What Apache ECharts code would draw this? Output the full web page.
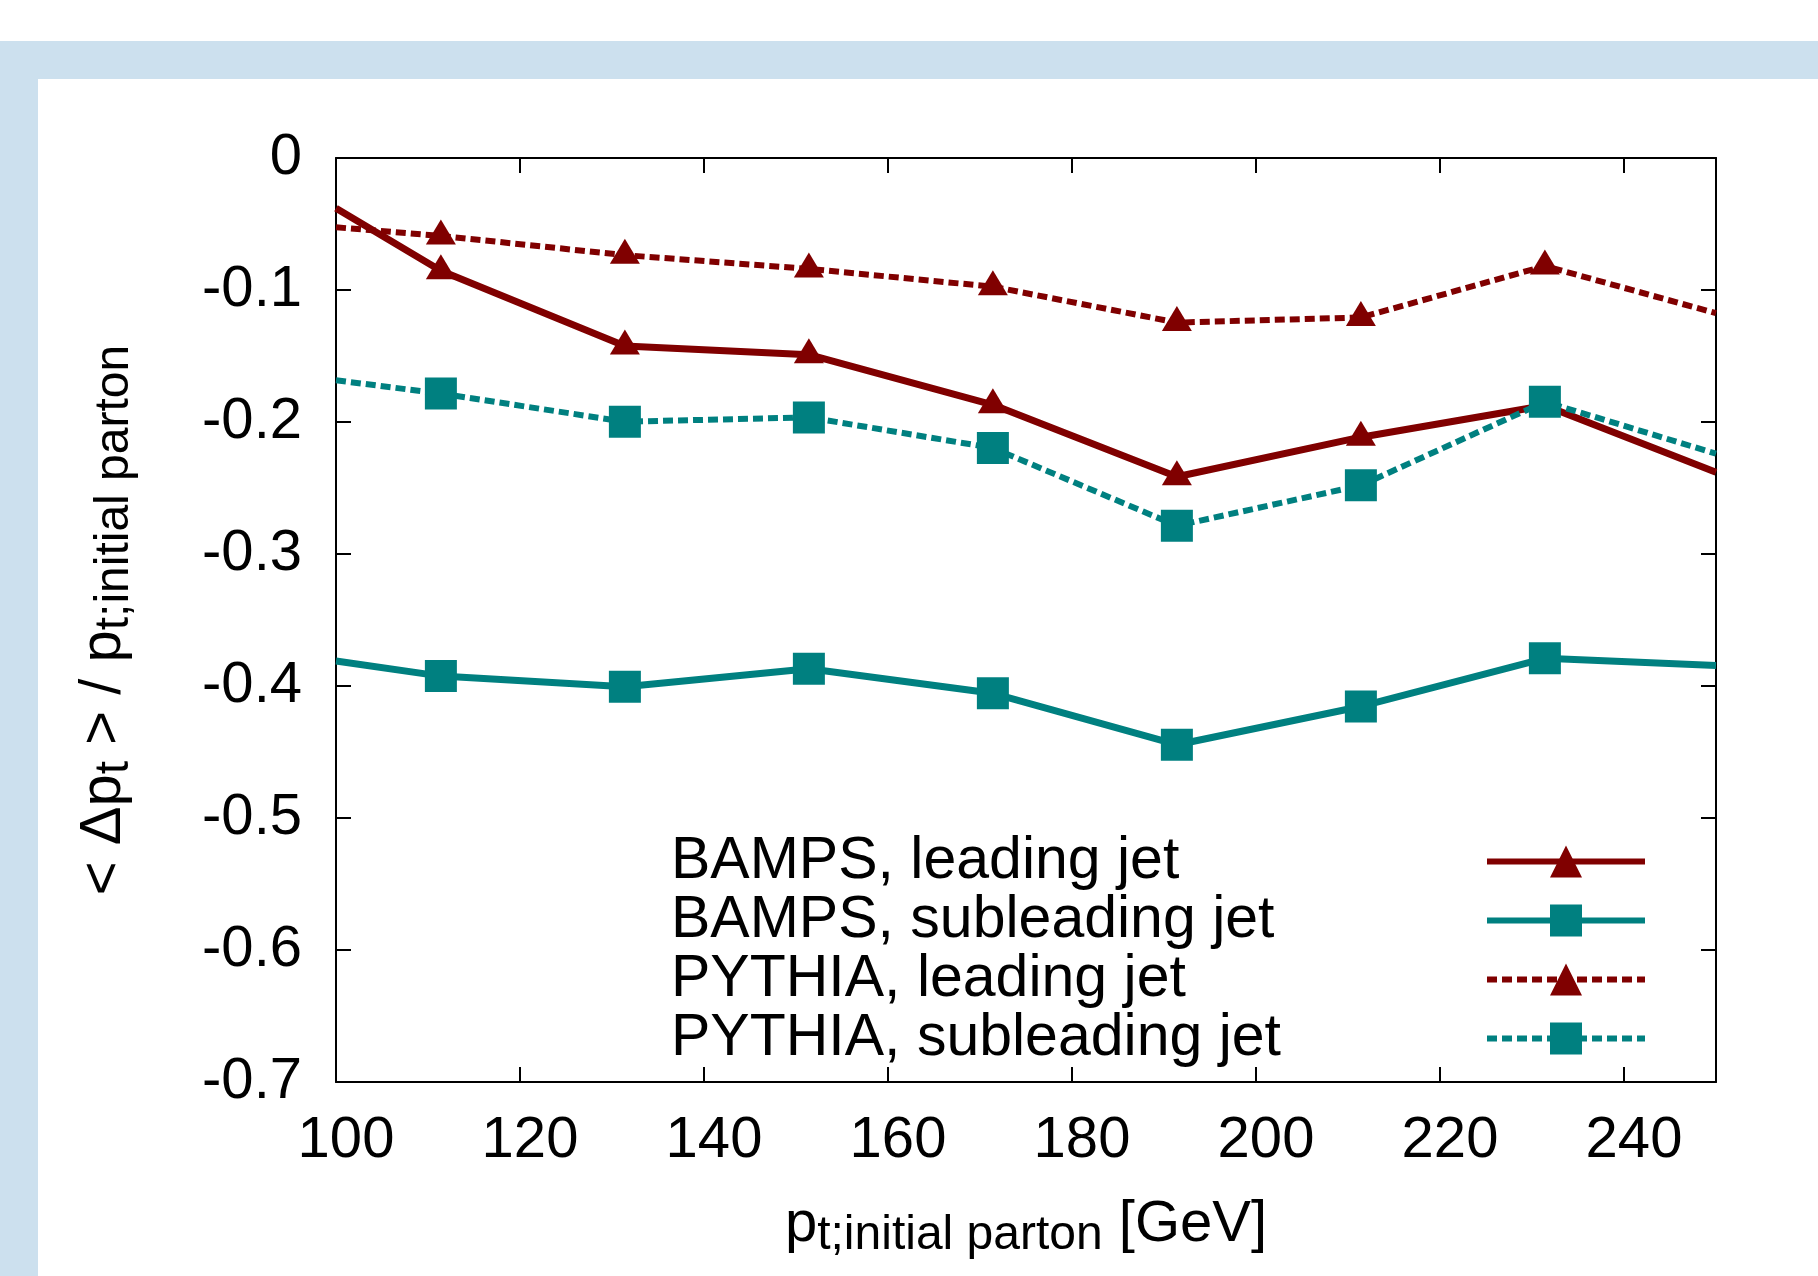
<!DOCTYPE html>
<html>
<head>
<meta charset="utf-8">
<title>jet energy loss</title>
<script src="https://cdn.jsdelivr.net/npm/echarts@6/dist/echarts.min.js"></script>
<style>
  html, body { margin: 0; padding: 0; background: #fff; }
  #chart { width: 1818px; height: 1276px; }
</style>
</head>
<body>
<div id="chart"></div>
<script>
// x positions (GeV); first / last entries are where the lines leave the frame
const ptBins = [100, 111.4, 131.4, 151.4, 171.4, 191.4, 211.4, 231.4, 250];

// < dpt > / pt;initial parton
const bampsLeading    = [-0.038, -0.0855, -0.1425, -0.149, -0.187, -0.2415, -0.2115, -0.1875, -0.238];
const bampsSubleading = [-0.381, -0.3925, -0.4005, -0.387, -0.4055, -0.4445, -0.4155, -0.379, -0.3845];
const pythiaLeading    = [-0.0525, -0.059, -0.0736, -0.084, -0.0975, -0.1247, -0.1208, -0.0818, -0.1176];
const pythiaSubleading = [-0.1684, -0.1785, -0.1998, -0.1965, -0.2197, -0.2786, -0.248, -0.1847, -0.224];

const seriesNames = ['BAMPS, leading jet', 'BAMPS, subleading jet', 'PYTHIA, leading jet', 'PYTHIA, subleading jet'];

const darkRed = '#800000';
const teal = '#008080';
const font = 'Liberation Sans, Arial, sans-serif';

// pair up x and y, no marker on the two edge points
function toPoints(vals) {
  return vals.map((v, i) => {
    let item = { value: [ptBins[i], v] };
    if (i === 0 || i === vals.length - 1) item.symbol = 'none';
    return item;
  });
}

function makeSeries(name, vals, color, dashed, symbol) {
  let tri = symbol === 'triangle';
  return {
    name: name,
    type: 'line',
    data: toPoints(vals),
    symbol: symbol,
    symbolSize: tri ? [30, 25] : 32,
    symbolOffset: tri ? [0, -4] : [0, 0],
    showAllSymbol: true,
    lineStyle: { color: color, width: dashed ? 6 : 7, type: dashed ? [10, 5] : 'solid' },
    itemStyle: { color: color, opacity: 1 },
    emphasis: { disabled: true },
    animation: false
  };
}

const richTitle = {
  m: { fontSize: 58, lineHeight: 70, fontFamily: font, color: '#000', verticalAlign: 'middle' },
  s: { fontSize: 48, lineHeight: 33, fontFamily: font, color: '#000', verticalAlign: 'bottom' }
};

const axisCommon = {
  type: 'value',
  axisLine: { show: true, onZero: false, lineStyle: { color: '#000', width: 2 } },
  axisTick: { show: true, inside: true, length: 15, lineStyle: { color: '#000', width: 2 } },
  splitLine: { show: false }
};

const chart = echarts.init(document.getElementById('chart'));

chart.setOption({
  backgroundColor: '#fff',
  animation: false,
  graphic: [
    { type: 'rect', z: -2, shape: { x: 0, y: 41, width: 1818, height: 1235 }, style: { fill: '#cce0ee' } },
    { type: 'rect', z: -1, shape: { x: 38, y: 79, width: 1780, height: 1197 }, style: { fill: '#fff' } }
  ],
  grid: { left: 336, top: 158, right: 102, bottom: 194, containLabel: false },
  xAxis: [
    Object.assign({}, axisCommon, {
      position: 'bottom',
      min: 100, max: 250, interval: 20,
      axisLabel: {
        margin: 30, fontSize: 58, fontFamily: font, color: '#000',
        padding: [0, 0, 0, 20],
        showMaxLabel: false,
        formatter: v => (v >= 250 ? '' : String(v))
      },
      name: '{m|p}{s|t;initial parton}{m| [GeV]}',
      nameLocation: 'middle',
      nameGap: 108,
      nameTextStyle: { rich: richTitle }
    }),
    Object.assign({}, axisCommon, {
      position: 'top',
      min: 100, max: 250, interval: 20,
      axisLabel: { show: false }
    })
  ],
  yAxis: [
    Object.assign({}, axisCommon, {
      position: 'left',
      min: -0.7, max: 0, interval: 0.1,
      axisLabel: {
        margin: 34, fontSize: 58, fontFamily: font, color: '#000',
        formatter: v => (Math.abs(v) < 1e-9 ? '0' : v.toFixed(1))
      },
      name: '{m|< Δp}{s|t}{m| > / p}{s|t;initial parton}',
      nameLocation: 'middle',
      nameRotate: 90,
      nameGap: 197,
      nameTextStyle: { rich: richTitle }
    }),
    Object.assign({}, axisCommon, {
      position: 'right',
      min: -0.7, max: 0, interval: 0.1,
      axisLabel: { show: false }
    })
  ],
  legend: {
    orient: 'vertical',
    left: 671,
    top: 832,
    padding: 0,
    itemGap: 0,
    itemWidth: 158,
    itemHeight: 40,
    align: 'right',
    selectedMode: false,
    data: seriesNames,
    lineStyle: { width: 6 },
    formatter: name => '{t|' + name + '}',
    textStyle: {
      fontSize: 59, fontFamily: font, color: '#000', lineHeight: 59,
      rich: { t: { width: 811, align: 'left', fontSize: 59, fontFamily: font, color: '#000', lineHeight: 59 } }
    }
  },
  series: [
    makeSeries(seriesNames[0], bampsLeading, darkRed, false, 'triangle'),
    makeSeries(seriesNames[1], bampsSubleading, teal, false, 'rect'),
    makeSeries(seriesNames[2], pythiaLeading, darkRed, true, 'triangle'),
    makeSeries(seriesNames[3], pythiaSubleading, teal, true, 'rect')
  ]
});
</script>
</body>
</html>
